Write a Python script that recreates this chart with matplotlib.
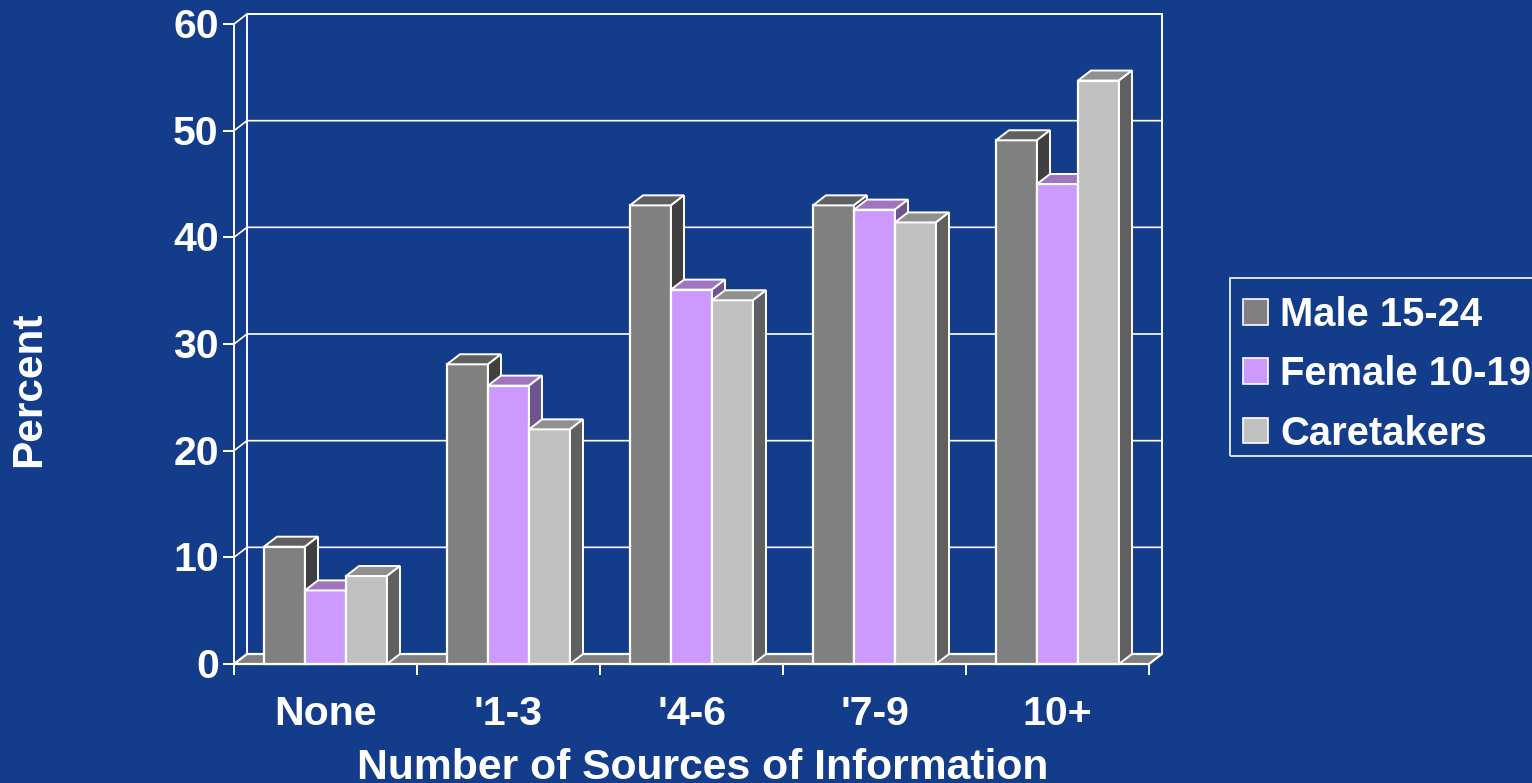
import matplotlib
matplotlib.use("Agg")
import matplotlib.pyplot as plt
from matplotlib.patches import Patch, Rectangle
from matplotlib.transforms import ScaledTranslation

WIDTH, HEIGHT = 1532, 783
BG = "#133c8b"

categories = ["None", "'1-3", "'4-6", "'7-9", "10+"]
male = [11.0, 28.1, 43.0, 43.0, 49.1]
female = [6.9, 26.1, 35.1, 42.6, 45.0]
caretakers = [8.25, 22.0, 34.1, 41.4, 54.7]
y_ticks = [0, 10, 20, 30, 40, 50, 60]

series = [
    ("Male 15-24", male, "#808080", "#606060", "#404040"),
    ("Female 10-19", female, "#cc99ff", "#9f75c0", "#6f5590"),
    ("Caretakers", caretakers, "#c0c0c0", "#909090", "#606060"),
]

# plot area in pixels, front plane
LEFT, RIGHT, BOTTOM, TOP = 234, 1149, 664, 24
BAR_W = 41 / 183
DX = 13 / 183
DY = 10 / 10.67
FONT_SIZE = 29.5

plt.rcParams["font.family"] = ["Liberation Sans", "DejaVu Sans"]
plt.rcParams["font.weight"] = "bold"


def draw_walls(ax):
    n = len(categories)
    top = y_ticks[-1]
    # floor
    ax.fill([0, DX, n + DX, n], [0, DY, DY, 0], facecolor="#808080",
            edgecolor="white", lw=1.6, zorder=1, clip_on=False)
    # back wall and side wall
    ax.plot([DX, DX, n + DX, n + DX], [DY, top + DY, top + DY, DY],
            color="white", lw=1.4, zorder=1, clip_on=False)
    for v in y_ticks:
        ax.plot([0, DX, n + DX], [v, v + DY, v + DY], color="white", lw=1.2,
                zorder=1, clip_on=False)


def draw_bars(ax):
    group_w = BAR_W * len(series)
    for i, (label, values, front, top_c, side_c) in enumerate(series):
        z = 3 + i
        for j, v in enumerate(values):
            x0 = j + 0.5 - group_w / 2 + i * BAR_W
            x1 = x0 + BAR_W
            ax.bar(x0, v, width=BAR_W, align="edge", color=front,
                   edgecolor="white", lw=1.6, zorder=z, clip_on=False)
            ax.fill([x0, x0 + DX, x1 + DX, x1], [v, v + DY, v + DY, v],
                    facecolor=top_c, edgecolor="white", lw=1.4, zorder=z, clip_on=False)
            ax.fill([x1, x1 + DX, x1 + DX, x1], [0, DY, v + DY, v],
                    facecolor=side_c, edgecolor="white", lw=1.4, zorder=z, clip_on=False)


def main():
    fig = plt.figure(figsize=(WIDTH / 100, HEIGHT / 100), dpi=100, facecolor=BG)
    ax = fig.add_axes([LEFT / WIDTH, 1 - BOTTOM / HEIGHT,
                       (RIGHT - LEFT) / WIDTH, (BOTTOM - TOP) / HEIGHT])
    ax.set_facecolor("none")
    ax.set_xlim(0, len(categories))
    ax.set_ylim(0, y_ticks[-1])

    draw_walls(ax)
    draw_bars(ax)

    for name, spine in ax.spines.items():
        spine.set_visible(name in ("left", "bottom"))
        spine.set_color("white")
        spine.set_linewidth(1.4)

    ax.set_yticks(y_ticks)
    ax.set_xticks(range(len(categories) + 1))
    ax.set_xticklabels([])
    ax.set_xticks([i + 0.5 for i in range(len(categories))], categories, minor=True)
    ax.tick_params(axis="y", colors="white", labelsize=FONT_SIZE, length=8, width=1.4, pad=3)
    ax.tick_params(axis="x", which="major", colors="white", length=8, width=1.4)
    ax.tick_params(axis="x", which="minor", colors="white", labelsize=FONT_SIZE, length=0, pad=22)

    # y labels sit one pixel higher in the original
    nudge = ScaledTranslation(0, 1 / 100, fig.dpi_scale_trans)
    for lbl in ax.get_yticklabels():
        lbl.set_transform(lbl.get_transform() + nudge)

    fig.text(703 / WIDTH, 1 - 779 / HEIGHT, "Number of Sources of Information",
             color="white", fontsize=30.7, ha="center", va="baseline")
    fig.text(29 / WIDTH, 1 - 389 / HEIGHT, "Percent", color="white", fontsize=30.5,
             rotation=90, ha="center", va="center")

    # legend box is not centred on its rows, so the frame is drawn on its own
    fig.add_artist(Rectangle((1230 / WIDTH, 1 - 456 / HEIGHT), 320 / WIDTH, 178 / HEIGHT,
                             transform=fig.transFigure, facecolor="none",
                             edgecolor="white", lw=1.2))
    handles = [Patch(facecolor=s[2], edgecolor="white", lw=1.2, label=s[0]) for s in series]
    fig.legend(handles=handles, loc="upper left",
               bbox_to_anchor=(1230 / WIDTH, 1 - 283 / HEIGHT),
               bbox_transform=fig.transFigure, fontsize=28.8, frameon=False,
               labelcolor="white", borderaxespad=0, borderpad=0.33,
               handlelength=0.62, handleheight=0.62, handletextpad=0.31,
               labelspacing=0.53)

    fig.savefig("out.png", dpi=100, facecolor=BG)
    plt.close(fig)


if __name__ == "__main__":
    main()
